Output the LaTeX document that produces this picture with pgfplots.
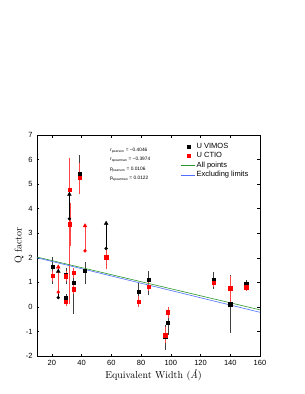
\documentclass[border=0pt]{standalone}
\usepackage{fontspec}
\usepackage{pgfplots}
\pgfplotsset{compat=1.18}
\newfontfamily\hv{Liberation Sans}
\definecolor{fitgreen}{RGB}{40,150,40}
\definecolor{fitblue}{RGB}{80,110,255}
\definecolor{errred}{RGB}{255,70,70}
\begin{document}
\begin{tikzpicture}[x=1pt,y=1pt]
\path[use as bounding box] (-37,-38) rectangle (268,356);
\begin{axis}[
  at={(0,0)}, anchor=south west,
  scale only axis, width=223pt, height=221pt,
  xmin=10, xmax=160, ymin=-2, ymax=7,
  xtick={20,40,60,80,100,120,140,160},
  ytick={-2,-1,0,1,2,3,4,5,6,7},
  tick align=inside, tick pos=both,
  major tick length=2.5pt,
  tick style={black, line width=0.4pt},
  axis line style={line width=0.5pt},
  /pgf/number format/assume math mode=true,
  tick label style={font=\hv\fontsize{7.5}{9}\selectfont},
  xticklabel style={yshift=-0.5pt},
  yticklabel style={xshift=-1pt},
  every axis x label/.style={at={([yshift=-19pt,xshift=5pt]rel axis cs:0.5,0)}, anchor=center},
  every axis y label/.style={at={([xshift=-18pt]rel axis cs:0,0.5)}, rotate=90, anchor=center},
  label style={font=\fontsize{10}{12}\selectfont},
  xlabel={Equivalent Width (\textit{Å})},
  ylabel={Q factor},
  legend image code/.code={\draw[mark repeat=2,mark phase=2,#1] plot coordinates {(0pt,0pt)(7pt,0pt)(14pt,0pt)};},
  legend style={draw=none, fill=none, at={(rel axis cs:0.645,0.968)}, anchor=north west,
    font=\hv\fontsize{7.5}{9}\selectfont, row sep=0.6pt, inner sep=0pt, nodes={inner sep=1pt}},
  legend cell align=left,
]
% --- U VIMOS (black) with error bars
\addplot[only marks, mark=square*, mark size=1.6pt, black,
  error bars/.cd, y dir=both, y explicit,
  error bar style={black!75, line width=0.5pt},
  error mark options={black!75, mark size=2.4pt, line width=0.5pt}]
coordinates {
 (20.5,1.64) += (0,0.31) -= (0,0.61)
 (29.5,1.30) += (0,0.20) -= (0,0.27)
 (29.5,0.35) += (0,0.08) -= (0,0.08)
 (34.5,1.00) += (0,0.20) -= (0,1.20)
 (38.5,5.43) += (0,0.65) -= (0,0.74)
 (42.3,1.46) += (0,0.27) -= (0,0.43)
 (78.2,0.62) += (0,0.27) -= (0,0.27)
 (84.9,1.10) += (0,0.27) -= (0,0.50)
 (96.2,-1.20) += (0,0.37) -= (0,0.44)
 (98.0,-0.66) += (0,0.30) -= (0,0.38)
 (128.7,1.12) += (0,0.21) -= (0,0.29)
 (140.0,0.11) += (0,1.09) -= (0,1.09)
 (150.7,0.93) += (0,0.05) -= (0,0.05)
};
\addlegendentry{U VIMOS}
% --- U CTIO (red) with error bars
\addplot[only marks, mark=square*, mark size=1.6pt, red,
  error bars/.cd, y dir=both, y explicit,
  error bar style={errred, line width=0.5pt},
  error mark options={errred, mark size=2.4pt, line width=0.5pt}]
coordinates {
 (20.5,1.27) += (0,0.10) -= (0,0.10)
 (29.5,1.25) += (0,0.10) -= (0,0.10)
 (29.5,0.20) += (0,0.05) -= (0,0.05)
 (31.8,4.76) += (0,1.22) -= (0,4.54)
 (32.2,3.37) += (0,0.78) -= (0,0.78)
 (34.5,1.39) += (0,0.10) -= (0,0.10)
 (34.5,0.72) += (0,0.10) -= (0,0.10)
 (38.5,5.26) += (0,0.50) -= (0,0.57)
 (56.5,2.02) += (0,0.20) -= (0,0.37)
 (78.2,0.22) += (0,0.12) -= (0,0.12)
 (84.9,0.83) += (0,0.08) -= (0,0.08)
 (96.2,-1.15) += (0,0.25) -= (0,0.22)
 (98.0,-0.22) += (0,0.13) -= (0,0.13)
 (128.7,0.97) += (0,0.07) -= (0,0.07)
 (140.0,0.76) += (0,0.42) -= (0,0.48)
 (150.7,0.80) += (0,0.05) -= (0,0.05)
};
\addlegendentry{U CTIO}
% --- fits
\addplot[fitgreen, line width=0.6pt] coordinates {(10,2.03) (160,-0.12)};
\addlegendentry{All points}
\addplot[fitblue, line width=0.6pt] coordinates {(10,2.00) (160,-0.22)};
\addlegendentry{Excluding limits}
% --- limits (black)
\addplot[forget plot, only marks, mark=*, mark size=1.5pt, black,
  error bars/.cd, y dir=plus, y explicit, error mark=none,
  error bar style={black, line width=0.6pt}]
coordinates {
 (24.3,0.38) += (0,1.05)
 (31.8,3.59) += (0,0.97)
 (56.5,2.38) += (0,1.00)
};
\addplot[forget plot, only marks, mark=triangle*, mark size=2.2pt, black]
coordinates {(24.3,1.45) (31.8,4.58) (56.5,3.40)};
% --- limits (red)
\addplot[forget plot, only marks, mark=*, mark size=1.5pt, red,
  error bars/.cd, y dir=plus, y explicit, error mark=none,
  error bar style={errred, line width=0.6pt}]
coordinates {
 (24.3,0.60) += (0,1.00)
 (42.3,2.28) += (0,1.00)
};
\addplot[forget plot, only marks, mark=triangle*, mark size=2.2pt, red]
coordinates {(24.3,1.62) (42.3,3.30)};
% --- correlation annotations
\node[anchor=west, inner sep=0pt, font=\hv\fontsize{4.8}{5}\selectfont] at (axis cs:59,6.36) {\textit{r}\textsubscript{pearson} = −0.4046};
\node[anchor=west, inner sep=0pt, font=\hv\fontsize{4.8}{5}\selectfont] at (axis cs:59,5.98) {\textit{r}\textsubscript{spearman} = −0.3974};
\node[anchor=west, inner sep=0pt, font=\hv\fontsize{4.8}{5}\selectfont] at (axis cs:59,5.60) {p\textsubscript{pearson} = 0.0106};
\node[anchor=west, inner sep=0pt, font=\hv\fontsize{4.8}{5}\selectfont] at (axis cs:59,5.22) {p\textsubscript{spearman} = 0.0122};
\end{axis}
\end{tikzpicture}
\end{document}
